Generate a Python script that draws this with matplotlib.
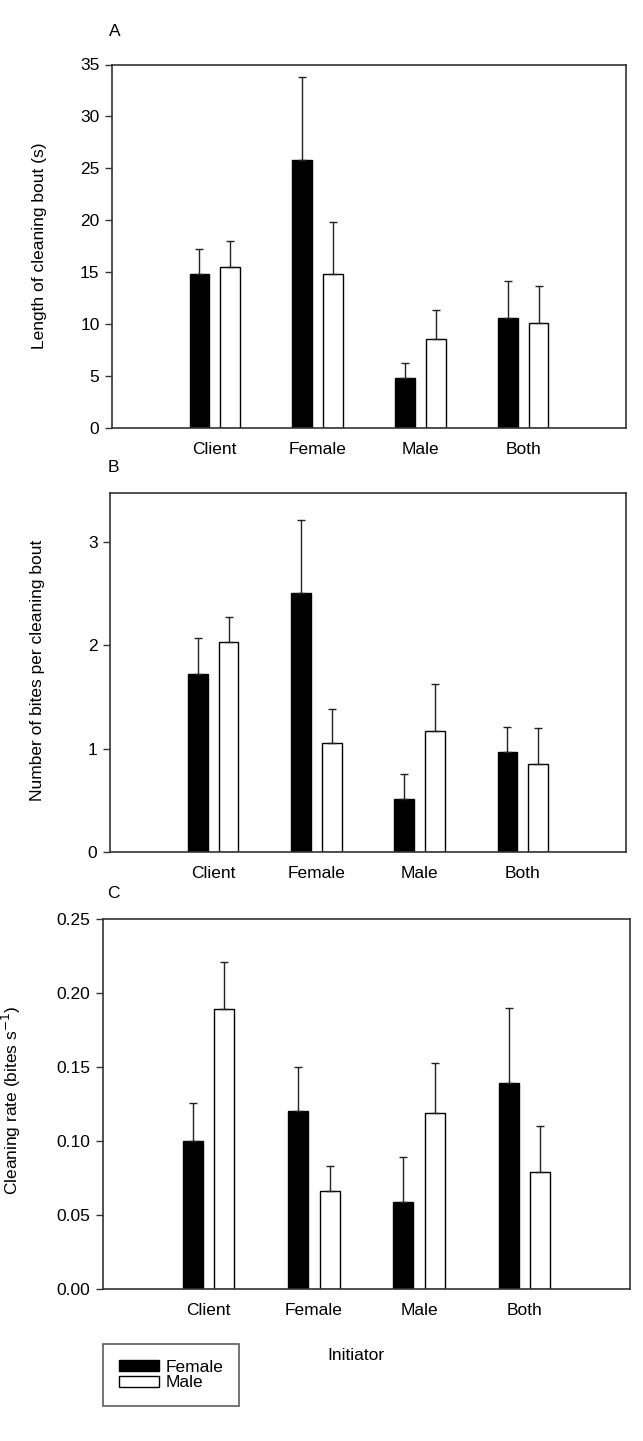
import matplotlib
matplotlib.use("Agg")
import matplotlib.pyplot as plt
import numpy as np
from matplotlib.patches import Patch

plt.rcParams['font.family'] = ['Liberation Sans', 'DejaVu Sans']

categories = ['Client', 'Female', 'Male', 'Both']

# Panel A: length of cleaning bout (s)
a_female = [14.8, 25.8, 4.8, 10.6]
a_female_se = [2.4, 8.0, 1.45, 3.6]
a_male = [15.5, 14.8, 8.6, 10.1]
a_male_se = [2.5, 5.0, 2.8, 3.55]

# Panel B: number of bites per cleaning bout
b_female = [1.72, 2.50, 0.51, 0.97]
b_female_se = [0.35, 0.71, 0.24, 0.24]
b_male = [2.03, 1.05, 1.17, 0.85]
b_male_se = [0.24, 0.33, 0.45, 0.35]

# Panel C: cleaning rate (bites s-1)
c_female = [0.100, 0.120, 0.059, 0.139]
c_female_se = [0.026, 0.030, 0.030, 0.051]
c_male = [0.189, 0.066, 0.119, 0.079]
c_male_se = [0.032, 0.017, 0.034, 0.031]

W, H = 643, 1441
FS = 12.5
fig = plt.figure(figsize=(W / 100, H / 100), dpi=100)
fig.patch.set_facecolor('white')


def px_axes(left, right, top, bottom):
    return fig.add_axes([left / W, 1 - bottom / H, (right - left) / W, (bottom - top) / H])


def panel(ax, fem, fem_se, mal, mal_se, ylim, yticks, fmt):
    x = np.arange(1, len(categories) + 1)
    w = 0.19
    off = 0.15
    ax.bar(x - off, fem, w, color='black', edgecolor='black', linewidth=1.0, zorder=2)
    ax.bar(x + off, mal, w, color='white', edgecolor='black', linewidth=1.0, zorder=2)
    for xs, vals, se in ((x - off, fem, fem_se), (x + off, mal, mal_se)):
        ax.errorbar(xs, vals, yerr=[np.zeros(len(se)), se], fmt='none',
                    ecolor='#222222', elinewidth=1.0, capsize=3, capthick=1.0, zorder=3)
    ax.set_xlim(0, 5)
    ax.set_ylim(*ylim)
    ax.set_yticks(yticks)
    ax.set_yticklabels([fmt.format(t) for t in yticks])
    ax.set_xticks(x)
    ax.set_xticklabels(categories)
    ax.tick_params(axis='x', length=0, pad=10, labelsize=FS)
    ax.tick_params(axis='y', direction='out', length=5, width=1.0, pad=4, labelsize=FS,
                   color='#333333')
    for s in ax.spines.values():
        s.set_color('#333333')
        s.set_linewidth(1.2)


axA = px_axes(112, 626, 64.5, 428)
panel(axA, a_female, a_female_se, a_male, a_male_se, (0, 35), [0, 5, 10, 15, 20, 25, 30, 35], '{:g}')

axB = px_axes(110, 626, 493, 852)
panel(axB, b_female, b_female_se, b_male, b_male_se, (0, 3.47), [0, 1, 2, 3], '{:g}')

axC = px_axes(103, 630, 919, 1289)
panel(axC, c_female, c_female_se, c_male, c_male_se, (0, 0.25),
      [0, 0.05, 0.10, 0.15, 0.20, 0.25], '{:.2f}')

# Panel letters
for lbl, xp, yp in (('A', 115, 32), ('B', 113, 468), ('C', 113, 893)):
    fig.text(xp / W, 1 - yp / H, lbl, fontsize=FS, ha='center', va='center')

# Y labels
fig.text(40 / W, 1 - 246 / H, 'Length of cleaning bout (s)', rotation=90,
         ha='center', va='center', fontsize=FS)
fig.text(38 / W, 1 - 670 / H, 'Number of bites per cleaning bout', rotation=90,
         ha='center', va='center', fontsize=FS)
fig.text(11 / W, 1 - 1100 / H, 'Cleaning rate (bites s$^{-1}$)', rotation=90,
         ha='center', va='center', fontsize=FS)

# X label
fig.text(356 / W, 1 - 1355 / H, 'Initiator', ha='center', va='center', fontsize=FS)

# Legend
handles = [Patch(facecolor='black', edgecolor='black', label='Female'),
           Patch(facecolor='white', edgecolor='black', label='Male')]
leg = fig.legend(handles=handles, loc='upper left',
                 bbox_to_anchor=(103 / W, 1 - 1344 / H), fontsize=FS,
                 frameon=True, fancybox=False, edgecolor='#333333',
                 handlelength=2.3, handleheight=0.6, labelspacing=0.05,
                 handletextpad=0.4, borderpad=0.9, borderaxespad=0)
leg.get_frame().set_linewidth(1.2)

fig.savefig('out.png', dpi=100, facecolor='white')
